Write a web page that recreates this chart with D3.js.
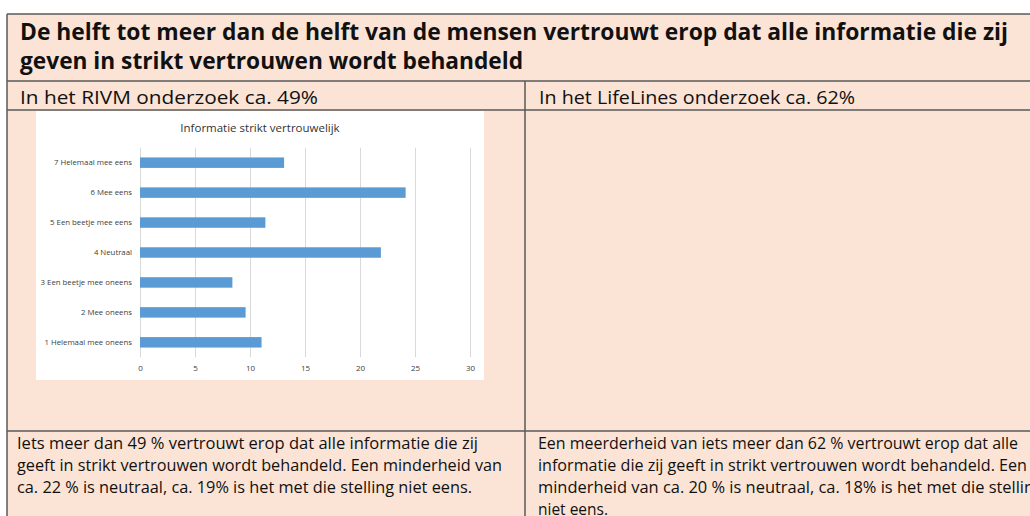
<!DOCTYPE html>
<html>
<head>
<meta charset="utf-8">
<script src="https://cdn.jsdelivr.net/npm/d3@7"></script>
<style>
  body { margin: 0; background: #fff; }
  svg { display: block; font-family: "Open Sans", "Noto Sans", sans-serif; }
</style>
</head>
<body>
<div id="chart"></div>
<script>
// chart data
const categories = [
  "1 Helemaal mee oneens",
  "2 Mee oneens",
  "3 Een beetje mee oneens",
  "4 Neutraal",
  "5 Een beetje mee eens",
  "6 Mee eens",
  "7 Helemaal mee eens"
];
const values = [11.05, 9.6, 8.4, 21.9, 11.4, 24.15, 13.1];
const xTicks = [0, 5, 10, 15, 20, 25, 30];

// table texts
const titleLines = [
  "De helft tot meer dan de helft van de mensen vertrouwt erop dat alle informatie die zij",
  "geven in strikt vertrouwen wordt behandeld"
];
const headLeft = "In het RIVM onderzoek ca. 49%";
const headRight = "In het LifeLines onderzoek ca. 62%";
const bodyLeft = [
  "Iets meer dan 49 % vertrouwt erop dat alle informatie die zij",
  "geeft in strikt vertrouwen wordt behandeld. Een minderheid van",
  "ca. 22 % is neutraal, ca. 19% is het met die stelling niet eens."
];
const bodyRight = [
  "Een meerderheid van iets meer dan 62 % vertrouwt erop dat alle",
  "informatie die zij geeft in strikt vertrouwen wordt behandeld. Een",
  "minderheid van ca. 20 % is neutraal, ca. 18% is het met die stelling",
  "niet eens."
];

const width = 1030, height = 516;
const peach = "#fbe4d5", line = "#5a5a5a";

const svg = d3.select("#chart")
  .append("svg")
  .attr("width", width)
  .attr("height", height);

// table background
svg.append("rect")
  .attr("x", 7).attr("y", 14)
  .attr("width", width).attr("height", height)
  .attr("fill", peach);

// table borders
const borders = svg.append("g")
  .attr("stroke", line)
  .attr("stroke-width", 1.5)
  .attr("fill", "none");
borders.append("line").attr("x1", 7).attr("x2", width).attr("y1", 14).attr("y2", 14);
borders.append("line").attr("x1", 7).attr("x2", 7).attr("y1", 14).attr("y2", height);
[81, 110, 431].forEach(y => {
  borders.append("line").attr("x1", 7).attr("x2", width).attr("y1", y).attr("y2", y);
});
borders.append("line").attr("x1", 525).attr("x2", 525).attr("y1", 81).attr("y2", height);

// text helper, stretched to the widths seen in the picture
function addText(str, x, y, len, size, weight) {
  svg.append("text")
    .attr("x", x)
    .attr("y", y)
    .attr("font-size", size)
    .attr("font-weight", weight || 400)
    .attr("fill", "#111")
    .attr("textLength", len)
    .attr("lengthAdjust", "spacingAndGlyphs")
    .text(str);
}

addText(titleLines[0], 20, 40, 988, 23, 700);
addText(titleLines[1], 20, 69, 503, 23, 700);
addText(headLeft, 20, 104, 298, 18);
addText(headRight, 539, 104, 316, 18);

const leftLens = [461, 485, 455];
bodyLeft.forEach((s, i) => addText(s, 17, 449 + i * 22, leftLens[i], 16));
const rightLens = [480, 489, 505, 70];
bodyRight.forEach((s, i) => addText(s, 538, 449 + i * 22, rightLens[i], 16));

// embedded bar chart
svg.append("rect")
  .attr("x", 36).attr("y", 111)
  .attr("width", 448).attr("height", 269)
  .attr("fill", "#fff");

svg.append("text")
  .attr("x", 260)
  .attr("y", 132)
  .attr("text-anchor", "middle")
  .attr("font-size", 11.5)
  .attr("fill", "#333")
  .text("Informatie strikt vertrouwelijk");

const x = d3.scaleLinear().domain([0, 30]).range([140, 470]);
const y = d3.scaleBand()
  .domain(categories.slice().reverse())
  .range([147.7, 357.3])
  .paddingInner(0.65)
  .paddingOuter(0.325);

// gridlines + x labels
const xAxis = svg.append("g")
  .attr("transform", "translate(0,357.3)")
  .call(d3.axisBottom(x).tickValues(xTicks).tickSize(-209.6).tickPadding(8));
xAxis.select(".domain").remove();
xAxis.selectAll("line").attr("stroke", "#d9d9d9");
xAxis.selectAll("text").attr("font-size", 8).attr("fill", "#404040")
  .attr("font-family", "Open Sans, sans-serif");

// bars
svg.append("g")
  .selectAll("rect")
  .data(values)
  .enter()
  .append("rect")
  .attr("x", x(0))
  .attr("y", (d, i) => y(categories[i]))
  .attr("width", d => x(d) - x(0))
  .attr("height", y.bandwidth())
  .attr("fill", "#5b9bd5");

// category labels
const yAxis = svg.append("g")
  .attr("transform", "translate(140,0)")
  .call(d3.axisLeft(y).tickSize(0).tickPadding(8));
yAxis.select(".domain").remove();
yAxis.selectAll("text").attr("font-size", 7.8).attr("fill", "#404040")
  .attr("font-family", "Open Sans, sans-serif");
</script>
</body>
</html>
